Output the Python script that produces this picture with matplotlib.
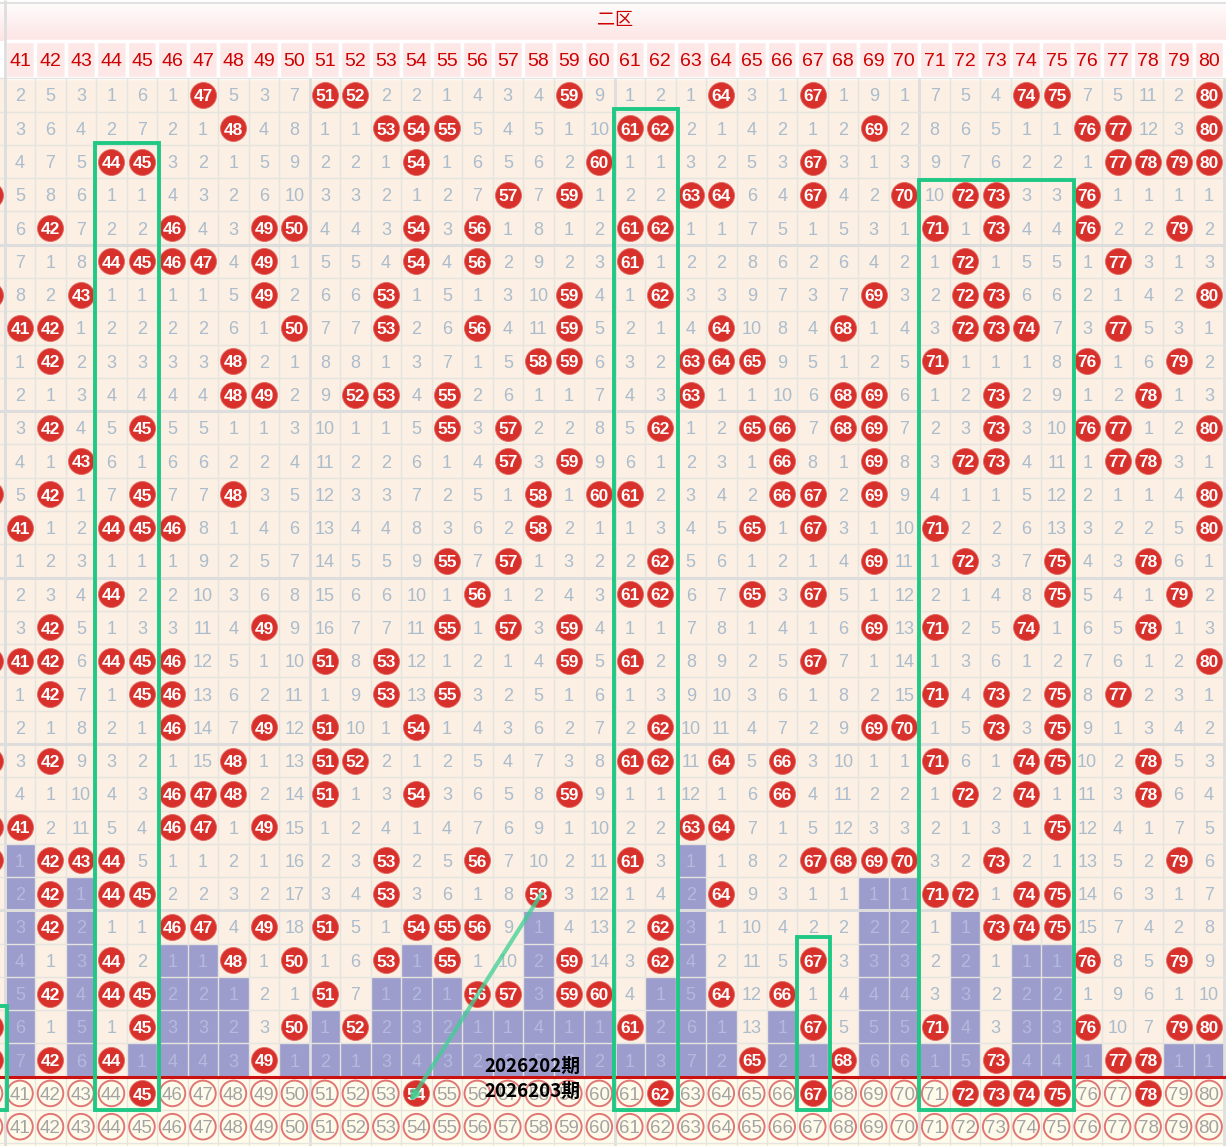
import numpy as np
import matplotlib.pyplot as plt
from matplotlib.patches import Rectangle
from matplotlib.colors import LinearSegmentedColormap

# ---- data ----
zone_title = "二区"
cols = list(range(41, 81))
# omission values per draw, 0 = number drawn (red ball)
omit = [
    [2, 5, 3, 1, 6, 1, 0, 5, 3, 7, 0, 0, 2, 2, 1, 4, 3, 4, 0, 9, 1, 2, 1, 0, 3, 1, 0, 1, 9, 1, 7, 5, 4, 0, 0, 7, 5, 11, 2, 0],
    [3, 6, 4, 2, 7, 2, 1, 0, 4, 8, 1, 1, 0, 0, 0, 5, 4, 5, 1, 10, 0, 0, 2, 1, 4, 2, 1, 2, 0, 2, 8, 6, 5, 1, 1, 0, 0, 12, 3, 0],
    [4, 7, 5, 0, 0, 3, 2, 1, 5, 9, 2, 2, 1, 0, 1, 6, 5, 6, 2, 0, 1, 1, 3, 2, 5, 3, 0, 3, 1, 3, 9, 7, 6, 2, 2, 1, 0, 0, 0, 0],
    [5, 8, 6, 1, 1, 4, 3, 2, 6, 10, 3, 3, 2, 1, 2, 7, 0, 7, 0, 1, 2, 2, 0, 0, 6, 4, 0, 4, 2, 0, 10, 0, 0, 3, 3, 0, 1, 1, 1, 1],
    [6, 0, 7, 2, 2, 0, 4, 3, 0, 0, 4, 4, 3, 0, 3, 0, 1, 8, 1, 2, 0, 0, 1, 1, 7, 5, 1, 5, 3, 1, 0, 1, 0, 4, 4, 0, 2, 2, 0, 2],
    [7, 1, 8, 0, 0, 0, 0, 4, 0, 1, 5, 5, 4, 0, 4, 0, 2, 9, 2, 3, 0, 1, 2, 2, 8, 6, 2, 6, 4, 2, 1, 0, 1, 5, 5, 1, 0, 3, 1, 3],
    [8, 2, 0, 1, 1, 1, 1, 5, 0, 2, 6, 6, 0, 1, 5, 1, 3, 10, 0, 4, 1, 0, 3, 3, 9, 7, 3, 7, 0, 3, 2, 0, 0, 6, 6, 2, 1, 4, 2, 0],
    [0, 0, 1, 2, 2, 2, 2, 6, 1, 0, 7, 7, 0, 2, 6, 0, 4, 11, 0, 5, 2, 1, 4, 0, 10, 8, 4, 0, 1, 4, 3, 0, 0, 0, 7, 3, 0, 5, 3, 1],
    [1, 0, 2, 3, 3, 3, 3, 0, 2, 1, 8, 8, 1, 3, 7, 1, 5, 0, 0, 6, 3, 2, 0, 0, 0, 9, 5, 1, 2, 5, 0, 1, 1, 1, 8, 0, 1, 6, 0, 2],
    [2, 1, 3, 4, 4, 4, 4, 0, 0, 2, 9, 0, 0, 4, 0, 2, 6, 1, 1, 7, 4, 3, 0, 1, 1, 10, 6, 0, 0, 6, 1, 2, 0, 2, 9, 1, 2, 0, 1, 3],
    [3, 0, 4, 5, 0, 5, 5, 1, 1, 3, 10, 1, 1, 5, 0, 3, 0, 2, 2, 8, 5, 0, 1, 2, 0, 0, 7, 0, 0, 7, 2, 3, 0, 3, 10, 0, 0, 1, 2, 0],
    [4, 1, 0, 6, 1, 6, 6, 2, 2, 4, 11, 2, 2, 6, 1, 4, 0, 3, 0, 9, 6, 1, 2, 3, 1, 0, 8, 1, 0, 8, 3, 0, 0, 4, 11, 1, 0, 0, 3, 1],
    [5, 0, 1, 7, 0, 7, 7, 0, 3, 5, 12, 3, 3, 7, 2, 5, 1, 0, 1, 0, 0, 2, 3, 4, 2, 0, 0, 2, 0, 9, 4, 1, 1, 5, 12, 2, 1, 1, 4, 0],
    [0, 1, 2, 0, 0, 0, 8, 1, 4, 6, 13, 4, 4, 8, 3, 6, 2, 0, 2, 1, 1, 3, 4, 5, 0, 1, 0, 3, 1, 10, 0, 2, 2, 6, 13, 3, 2, 2, 5, 0],
    [1, 2, 3, 1, 1, 1, 9, 2, 5, 7, 14, 5, 5, 9, 0, 7, 0, 1, 3, 2, 2, 0, 5, 6, 1, 2, 1, 4, 0, 11, 1, 0, 3, 7, 0, 4, 3, 0, 6, 1],
    [2, 3, 4, 0, 2, 2, 10, 3, 6, 8, 15, 6, 6, 10, 1, 0, 1, 2, 4, 3, 0, 0, 6, 7, 0, 3, 0, 5, 1, 12, 2, 1, 4, 8, 0, 5, 4, 1, 0, 2],
    [3, 0, 5, 1, 3, 3, 11, 4, 0, 9, 16, 7, 7, 11, 0, 1, 0, 3, 0, 4, 1, 1, 7, 8, 1, 4, 1, 6, 0, 13, 0, 2, 5, 0, 1, 6, 5, 0, 1, 3],
    [0, 0, 6, 0, 0, 0, 12, 5, 1, 10, 0, 8, 0, 12, 1, 2, 1, 4, 0, 5, 0, 2, 8, 9, 2, 5, 0, 7, 1, 14, 1, 3, 6, 1, 2, 7, 6, 1, 2, 0],
    [1, 0, 7, 1, 0, 0, 13, 6, 2, 11, 1, 9, 0, 13, 0, 3, 2, 5, 1, 6, 1, 3, 9, 10, 3, 6, 1, 8, 2, 15, 0, 4, 0, 2, 0, 8, 0, 2, 3, 1],
    [2, 1, 8, 2, 1, 0, 14, 7, 0, 12, 0, 10, 1, 0, 1, 4, 3, 6, 2, 7, 2, 0, 10, 11, 4, 7, 2, 9, 0, 0, 1, 5, 0, 3, 0, 9, 1, 3, 4, 2],
    [3, 0, 9, 3, 2, 1, 15, 0, 1, 13, 0, 0, 2, 1, 2, 5, 4, 7, 3, 8, 0, 0, 11, 0, 5, 0, 3, 10, 1, 1, 0, 6, 1, 0, 0, 10, 2, 0, 5, 3],
    [4, 1, 10, 4, 3, 0, 0, 0, 2, 14, 0, 1, 3, 0, 3, 6, 5, 8, 0, 9, 1, 1, 12, 1, 6, 0, 4, 11, 2, 2, 1, 0, 2, 0, 1, 11, 3, 0, 6, 4],
    [0, 2, 11, 5, 4, 0, 0, 1, 0, 15, 1, 2, 4, 1, 4, 7, 6, 9, 1, 10, 2, 2, 0, 0, 7, 1, 5, 12, 3, 3, 2, 1, 3, 1, 0, 12, 4, 1, 7, 5],
    [1, 0, 0, 0, 5, 1, 1, 2, 1, 16, 2, 3, 0, 2, 5, 0, 7, 10, 2, 11, 0, 3, 1, 1, 8, 2, 0, 0, 0, 0, 3, 2, 0, 2, 1, 13, 5, 2, 0, 6],
    [2, 0, 1, 0, 0, 2, 2, 3, 2, 17, 3, 4, 0, 3, 6, 1, 8, 0, 3, 12, 1, 4, 2, 0, 9, 3, 1, 1, 1, 1, 0, 0, 1, 0, 0, 14, 6, 3, 1, 7],
    [3, 0, 2, 1, 1, 0, 0, 4, 0, 18, 0, 5, 1, 0, 0, 0, 9, 1, 4, 13, 2, 0, 3, 1, 10, 4, 2, 2, 2, 2, 1, 1, 0, 0, 0, 15, 7, 4, 2, 8],
    [4, 1, 3, 0, 2, 1, 1, 0, 1, 0, 1, 6, 0, 1, 0, 1, 10, 2, 0, 14, 3, 0, 4, 2, 11, 5, 0, 3, 3, 3, 2, 2, 1, 1, 1, 0, 8, 5, 0, 9],
    [5, 0, 4, 0, 0, 2, 2, 1, 2, 1, 0, 7, 1, 2, 1, 0, 0, 3, 0, 0, 4, 1, 5, 0, 12, 0, 1, 4, 4, 4, 3, 3, 2, 2, 2, 1, 9, 6, 1, 10],
    [6, 1, 5, 1, 0, 3, 3, 2, 3, 0, 1, 0, 2, 3, 2, 1, 1, 4, 1, 1, 0, 2, 6, 1, 13, 1, 0, 5, 5, 5, 0, 4, 3, 3, 3, 0, 10, 7, 0, 0],
    [7, 0, 6, 0, 1, 4, 4, 3, 0, 1, 2, 1, 3, 4, 3, 2, 2, 5, 2, 2, 1, 3, 7, 2, 0, 2, 1, 0, 6, 6, 1, 5, 0, 4, 4, 1, 0, 0, 1, 1],
]
col40_hits = [4, 7, 13, 18, 21, 23, 24, 29, 30]   # partly hidden column at the left edge
next_draw = [45, 54, 62, 67, 72, 73, 74, 75, 78]
periods = ["2026202期", "2026203期"]

# highlight frames: (first col, last col, top, bottom) in row units
frames = [(44, 45, 2.43, 31.5), (61, 62, 1.42, 31.5), (71, 75, 3.56, 31.5),
          (67, 67, 26.3, 31.5), (40, 40, 28.37, 31.5)]

RED = "#d8312c"
MISS = "#abbccd"
BARTXT = "#b4b9de"
BAR = "#9c9dcc"
GREEN = "#1fc885"
PX = 33.28  # pixels per row


def yoff(fs):
    # half the digit height, in row units, so digits sit centred
    return fs * 100 / 72 * 0.716 / 2 / PX


fig = plt.figure(figsize=(12.26, 11.46), dpi=100)
ax = fig.add_axes([0, 0, 1, 1])
ax.set_xlim(40.344, 80.554)
ax.set_ylim(32.58, -1.855)
ax.axis("off")

n = len(omit)

# backgrounds
ax.add_patch(Rectangle((39.5, 0.5), 42, n, fc="#fbf0e3", ec="none", zorder=0))
ax.add_patch(Rectangle((39.5, n + 0.5), 42, 3, fc="#fffbea", ec="none", zorder=0))
grad = LinearSegmentedColormap.from_list("hdr", ["#ffffff", "#fde4e4"])
ax.imshow(np.linspace(0, 1, 60).reshape(-1, 1), cmap=grad, aspect="auto",
          extent=(39.5, 81.5, -0.62, -1.855), origin="upper", zorder=0)
ax.hlines(-1.77, 39.5, 81.5, color="#e2e2e2", lw=1.5, zorder=1)
ax.text(60.51, -1.25, zone_title, ha="center", va="center", fontsize=13,
        color="#cc0000", family=["Noto Sans CJK SC", "DejaVu Sans"])

# header numbers
for c in cols:
    ax.add_patch(Rectangle((c - 0.5, -0.62), 1, 1.1, fc="#fde7e7", ec="white", lw=2.5, zorder=1))
    ax.text(c, -0.07 + yoff(14), str(c), ha="center", va="baseline", fontsize=14,
            color="#cc0000", family="Liberation Sans", zorder=2)

# trailing omission bars (cells after the last hit of each column)
for j, c in enumerate(cols):
    col_vals = [row[j] for row in omit]
    last = max([i for i, v in enumerate(col_vals) if v == 0], default=-1)
    for i in range(last + 1, n):
        ax.bar(c, 1, bottom=i + 0.5, width=1, color=BAR, edgecolor="none", zorder=1)

# grid lines
for k in range(40, 81):
    x = k + 0.5
    thick = (k % 10 == 0)
    ax.vlines(x, 0.5, 33, color="#dedede" if thick else "#e6e4e0", lw=2 if thick else 1, zorder=1.5)
for r in range(0, n + 3):
    y = r + 0.5
    thick = (r % 5 == 0 and 0 < r < n)
    ax.hlines(y, 39.5, 81.5, color="#dddddd" if thick else "#e6e4e0", lw=2.2 if thick else 1, zorder=1.5)
ax.vlines(40.5, -1.855, 33, color="#dedede", lw=2, zorder=1.5)

# cells
bx, by, bl = [], [], []
for i, row in enumerate(omit):
    r = i + 1
    for j, v in enumerate(row):
        c = cols[j]
        if v == 0:
            bx.append(c)
            by.append(r)
            bl.append(str(c))
        else:
            col_vals = [rr[j] for rr in omit]
            shaded = all(x != 0 for x in col_vals[i:])
            ax.text(c, r + yoff(13), str(v), ha="center", va="baseline", fontsize=13,
                    color=BARTXT if shaded else MISS, family="Liberation Sans", zorder=2)
for r in col40_hits:
    bx.append(40)
    by.append(r)
    bl.append("40")

# separator before the forecast rows
ax.hlines(n + 0.5, 39.5, 81.5, color="#cc1111", lw=2.2, zorder=2.5)

# forecast rows
ox, oy = [], []
for k, p in enumerate(periods):
    r = n + 1 + k
    for c in [40] + cols:
        if k == 0 and c in next_draw:
            bx.append(c)
            by.append(r)
            bl.append(str(c))
        else:
            ox.append(c)
            oy.append(r)
            ax.text(c, r + yoff(13.5), str(c), ha="center", va="baseline", fontsize=13.5,
                    color="#a3a3a3", family="Liberation Sans", zorder=2)
ax.scatter(ox, oy, s=340, facecolors="none", edgecolors="#e07676", linewidths=1.4, zorder=1.8)

ax.scatter(bx, by, s=350, color=RED, edgecolors="#e46a66", linewidths=0.6, zorder=3)
for x, y, t in zip(bx, by, bl):
    ax.text(x, y + yoff(12.5), t, ha="center", va="baseline", fontsize=12.5,
            color="white", fontweight="bold", family="Liberation Sans", zorder=4)

# highlight frames
for c0, c1, top, bot in frames:
    ax.add_patch(Rectangle((c0 - 0.53, top), c1 - c0 + 1.1, bot - top, fill=False,
                           ec=GREEN, lw=2.8, zorder=5))

# link line between 58 and the forecast 54
ax.annotate("", xy=(53.79, 31.25), xytext=(58.11, 24.99),
            arrowprops=dict(arrowstyle="-|>", color="#3fcf95", lw=3, alpha=0.75,
                            mutation_scale=12, shrinkA=0, shrinkB=0), zorder=5)

for k, p in enumerate(periods):
    ax.text(57.79, 30.18 + k * 0.75, p, ha="center", va="center", fontsize=13.5,
            fontweight="bold", color="black", family=["Noto Sans CJK SC", "DejaVu Sans"], zorder=6)

fig.savefig("out.png", dpi=100)
